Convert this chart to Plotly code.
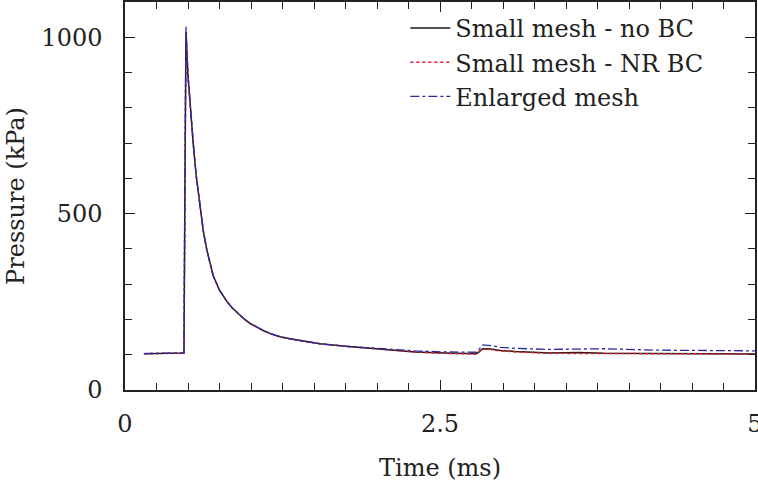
import plotly.graph_objects as go

# Time (ms)
t_black = [0.15, 0.46, 0.468, 0.476, 0.484, 0.50, 0.52, 0.542, 0.565, 0.59, 0.609, 0.621, 0.65, 0.675, 0.70, 0.75,
           0.807, 0.85, 0.90, 0.95, 0.992, 1.05, 1.10, 1.16, 1.23, 1.31, 1.40, 1.548, 1.75, 1.944, 2.13, 2.30, 2.53, 2.79, 2.84, 2.90,
           2.98, 3.10, 3.37, 3.60, 3.80, 4.20, 4.60, 5.0]
p_black = [103, 103, 105, 600, 1015, 890, 785, 697, 608, 537, 484, 452, 396, 355, 324, 283,
           252, 233, 215, 200, 189, 177, 168, 159, 151, 145, 139, 131, 124, 118, 112, 108, 105, 103, 117, 116,
           112, 109, 105, 106, 104, 103, 103, 102]

t_red = t_black
p_red = [103, 103, 105, 600, 1005, 885, 782, 697, 608, 537, 484, 452, 396, 355, 324, 283,
         252, 233, 215, 200, 189, 177, 168, 159, 151, 145, 139, 131, 124, 118, 112, 108, 104, 102, 116, 115,
         111, 108, 104, 104, 103, 102, 102, 102]

t_blue = t_black
p_blue = [103, 103, 105, 600, 1030, 895, 788, 697, 608, 537, 484, 452, 396, 355, 324, 283,
          252, 233, 215, 200, 189, 177, 168, 159, 151, 145, 139, 131, 124, 119, 114, 111, 108, 107, 128, 126,
          121, 118, 115, 117, 117, 113, 112, 111]

names = ["Small mesh - no BC", "Small mesh - NR BC", "Enlarged mesh"]

FONT = "DejaVu Serif"
FS = 24
AX = "#222222"

fig = go.Figure()
fig.add_trace(go.Scatter(x=t_black, y=p_black, mode="lines", name=names[0],
                         line=dict(color="#1a1a1a", width=1.5)))
fig.add_trace(go.Scatter(x=t_red, y=p_red, mode="lines", name=names[1],
                         line=dict(color="rgb(230,25,35)", width=1.5, dash="dot")))
fig.add_trace(go.Scatter(x=t_blue, y=p_blue, mode="lines", name=names[2],
                         line=dict(color="rgb(40,40,165)", width=1.3, dash="dashdot")))

fig.update_layout(
    width=758, height=488,
    margin=dict(l=125, r=3, t=2, b=98),
    paper_bgcolor="white", plot_bgcolor="white",
    font=dict(family=FONT, size=FS, color="#222222"),
    showlegend=True,
    legend=dict(x=0.445, y=0.99, xanchor="left", yanchor="top", bgcolor="rgba(0,0,0,0)",
                font=dict(family=FONT, size=FS, color="#222222"), tracegroupgap=0,
                itemwidth=40),
)
fig.update_xaxes(
    range=[0, 5], tickvals=[0, 2.5, 5], ticktext=["0", "2.5", "5"],
    ticks="inside", ticklen=10, tickwidth=1.3, tickcolor=AX,
    minor=dict(dtick=0.25, ticks="inside", ticklen=7, tickwidth=1.3, tickcolor=AX),
    showline=True, linecolor=AX, linewidth=1.5, mirror="ticks",
    showgrid=False, zeroline=False, ticklabelstandoff=11, ticklabeloverflow="allow",
    automargin=False,
    title=dict(text="Time (ms)", standoff=23, font=dict(family=FONT, size=FS)),
)
fig.update_yaxes(
    range=[0, 1100], tickvals=[0, 500, 1000],
    ticks="inside", ticklen=10, tickwidth=1.3, tickcolor=AX,
    minor=dict(dtick=100, ticks="inside", ticklen=7, tickwidth=1.3, tickcolor=AX),
    showline=True, linecolor=AX, linewidth=1.5, mirror="ticks",
    showgrid=False, zeroline=False, ticklabelstandoff=16,
    automargin=False,
    title=dict(text="Pressure (kPa)", standoff=10, font=dict(family=FONT, size=FS)),
)

fig.write_html("out.html")
